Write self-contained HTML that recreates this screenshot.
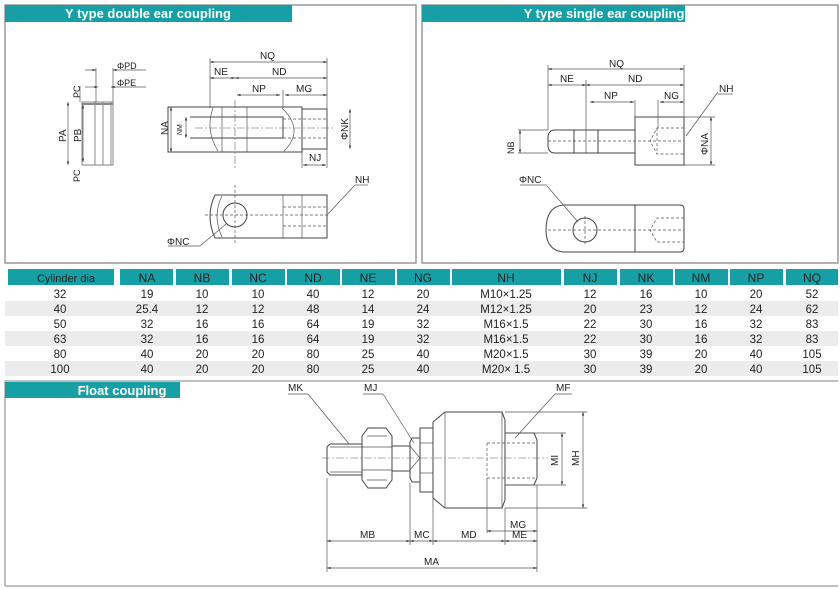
<!DOCTYPE html>
<html><head><meta charset="utf-8"><style>
body{margin:0;background:#fff}
svg{display:block}
text{font-family:"Liberation Sans",sans-serif;fill:#222}
.l{stroke:#444;stroke-width:1;fill:none}
.t{stroke:#555;stroke-width:.7;fill:none}
.d{stroke:#555;stroke-width:.7;fill:none;stroke-dasharray:3 2}
.c{stroke:#666;stroke-width:.6;fill:none;stroke-dasharray:8 2 2 2}
.h{fill:#fff;font-weight:bold;font-size:13px}
.tb{font-size:11.5px;text-anchor:middle}
.th{font-size:12px;fill:#fff;text-anchor:middle}
.s{font-size:9px}
</style></head><body>
<svg width="840" height="589" viewBox="0 0 840 589" xmlns="http://www.w3.org/2000/svg">
<defs><marker id="a" viewBox="0 0 6 6" refX="6" refY="3" markerWidth="5" markerHeight="5" orient="auto-start-reverse"><path d="M0,1 L6,3 L0,5z" fill="#333"/></marker></defs>
<!-- frames -->
<rect x="5" y="5" width="411" height="258" fill="none" stroke="#999" stroke-width="1.5"/>
<rect x="422" y="5" width="416" height="258" fill="none" stroke="#999" stroke-width="1.5"/>
<rect x="5" y="5" width="287" height="17" fill="#16a0a6"/>
<text x="148" y="18" class="h" text-anchor="middle">Y type double ear coupling</text>
<rect x="422" y="5" width="263" height="17" fill="#16a0a6"/>
<text x="604" y="18" class="h" text-anchor="middle">Y type single ear coupling</text>

<!-- left side view -->
<g class="s">
<rect x="82" y="102" width="31" height="63" class="t"/>
<line x1="95" y1="102" x2="95" y2="165" class="t"/><line x1="103" y1="102" x2="103" y2="165" class="t"/><line x1="111" y1="102" x2="111" y2="165" class="t"/>
<line x1="82" y1="104" x2="113" y2="104" stroke="#888" stroke-width="2"/>
<line x1="96" y1="68" x2="96" y2="102" class="t"/><line x1="113" y1="68" x2="113" y2="102" class="t"/>
<line x1="85" y1="70" x2="96" y2="70" class="t" marker-end="url(#a)"/><line x1="146" y1="70" x2="113" y2="70" class="t" marker-end="url(#a)"/>
<line x1="85" y1="87" x2="98" y2="87" class="t" marker-end="url(#a)"/><line x1="146" y1="87" x2="111" y2="87" class="t" marker-end="url(#a)"/>
<text x="117" y="69">ΦPD</text><text x="117" y="86">ΦPE</text>
<line x1="68" y1="102" x2="68" y2="165" class="t" marker-start="url(#a)" marker-end="url(#a)"/>
<line x1="83" y1="105" x2="83" y2="162" class="t" marker-start="url(#a)" marker-end="url(#a)"/>
<line x1="80" y1="86" x2="80" y2="102" class="t"/>
<text transform="translate(66,142) rotate(-90)" font-size="10">PA</text><text transform="translate(81,142) rotate(-90)" font-size="10">PB</text>
<text transform="translate(80,98) rotate(-90)">PC</text><text transform="translate(80,182) rotate(-90)">PC</text>
</g>
<!-- left main -->
<g class="s">
<path d="M168,107 H302 V152 H168 Z" class="l"/>
<path d="M190,117 H283 V138 H190" class="l"/>
<path d="M213,108 Q205,130 218,151" class="t"/>
<line x1="222" y1="107" x2="222" y2="152" class="t"/><line x1="247" y1="107" x2="247" y2="152" class="t"/>
<path d="M282,108 Q305,130 284,151" class="t"/>
<rect x="302" y="109" width="25" height="40" class="l"/>
<line x1="283" y1="119" x2="327" y2="119" class="d"/><line x1="283" y1="138" x2="327" y2="138" class="d"/>
<line x1="195" y1="128" x2="333" y2="128" class="c"/>
<line x1="235" y1="100" x2="235" y2="168" class="c"/>
<line x1="210" y1="58" x2="210" y2="108" class="t"/><line x1="327" y1="58" x2="327" y2="168" class="t"/>
<line x1="210" y1="62" x2="327" y2="62" class="t" marker-start="url(#a)" marker-end="url(#a)"/><text x="260" y="59" font-size="10">NQ</text>
<line x1="210" y1="78" x2="235" y2="78" class="t" marker-start="url(#a)" marker-end="url(#a)"/><text x="214" y="75" font-size="10">NE</text>
<line x1="235" y1="78" x2="327" y2="78" class="t" marker-start="url(#a)" marker-end="url(#a)"/><text x="272" y="75" font-size="10">ND</text>
<line x1="237" y1="95" x2="280" y2="95" class="t" marker-start="url(#a)" marker-end="url(#a)"/><text x="252" y="92" font-size="10">NP</text>
<line x1="283" y1="90" x2="283" y2="108" class="t"/>
<line x1="285" y1="95" x2="327" y2="95" class="t" marker-start="url(#a)" marker-end="url(#a)"/><text x="296" y="92" font-size="10">MG</text>
<line x1="302" y1="152" x2="302" y2="168" class="t"/>
<line x1="303" y1="165" x2="326" y2="165" class="t" marker-start="url(#a)" marker-end="url(#a)"/><text x="309" y="161" font-size="10">NJ</text>
<line x1="350" y1="109" x2="350" y2="149" class="t" marker-start="url(#a)" marker-end="url(#a)"/>
<text transform="translate(348,140) rotate(-90)" font-size="10">ΦNK</text>
<line x1="171" y1="107" x2="171" y2="152" class="t" marker-start="url(#a)" marker-end="url(#a)"/>
<text transform="translate(168,135) rotate(-90)" font-size="10">NA</text>
<line x1="186" y1="117" x2="186" y2="138" class="t" marker-start="url(#a)" marker-end="url(#a)"/>
<text transform="translate(182,135) rotate(-90)" font-size="7">NM</text>
<!-- bottom view -->
<path d="M215,195 H327 V238 H215 Q205,216 215,195 Z" class="l"/>
<path d="M222,196 Q212,216 222,237" class="t"/>
<line x1="283" y1="195" x2="283" y2="238" class="t"/><line x1="302" y1="195" x2="302" y2="238" class="t"/>
<line x1="283" y1="207" x2="327" y2="207" class="d"/><line x1="283" y1="226" x2="327" y2="226" class="d"/>
<circle cx="235" cy="215" r="12" class="l"/>
<line x1="205" y1="215" x2="330" y2="215" class="d"/><line x1="235" y1="185" x2="235" y2="245" class="d"/>
<line x1="328" y1="214" x2="355" y2="185" class="t"/><line x1="355" y1="185" x2="368" y2="185" class="t"/><text x="355" y="183" font-size="10">NH</text>
<line x1="226" y1="224" x2="200" y2="246" class="t"/><line x1="168" y1="246" x2="200" y2="246" class="t"/><text x="167" y="245" font-size="10">ΦNC</text>
</g>

<!-- right main -->
<g class="s">
<path d="M555,130 H635 V153 H555 Q548,153 548,145 V138 Q548,130 555,130 Z" class="l"/>
<line x1="574" y1="130" x2="574" y2="153" class="l"/><line x1="598" y1="130" x2="598" y2="153" class="l"/>
<rect x="635" y="117" width="49" height="48" class="l"/>
<path d="M684,128 H657 L650,141 L657,154 H684" class="d"/><line x1="657" y1="128" x2="657" y2="154" class="d"/>
<line x1="548" y1="141" x2="684" y2="141" class="d"/>
<line x1="548" y1="65" x2="548" y2="130" class="t"/><line x1="684" y1="65" x2="684" y2="117" class="t"/><line x1="586" y1="80" x2="586" y2="153" class="t"/>
<line x1="635" y1="100" x2="635" y2="117" class="t"/><line x1="658" y1="100" x2="658" y2="128" class="t"/>
<line x1="548" y1="69" x2="684" y2="69" class="t" marker-start="url(#a)" marker-end="url(#a)"/><text x="609" y="67" font-size="10">NQ</text>
<line x1="548" y1="85" x2="586" y2="85" class="t" marker-start="url(#a)" marker-end="url(#a)"/><text x="560" y="82" font-size="10">NE</text>
<line x1="586" y1="85" x2="684" y2="85" class="t" marker-start="url(#a)" marker-end="url(#a)"/><text x="628" y="82" font-size="10">ND</text>
<line x1="590" y1="102" x2="634" y2="102" class="t" marker-start="url(#a)" marker-end="url(#a)"/><text x="604" y="99" font-size="10">NP</text>
<line x1="660" y1="102" x2="684" y2="102" class="t" marker-start="url(#a)" marker-end="url(#a)"/><text x="664" y="99" font-size="10">NG</text>
<line x1="684" y1="117" x2="715" y2="117" class="t"/><line x1="684" y1="165" x2="715" y2="165" class="t"/>
<line x1="711" y1="117" x2="711" y2="165" class="t" marker-start="url(#a)" marker-end="url(#a)"/>
<text transform="translate(708,155) rotate(-90)" font-size="10">ΦNA</text>
<line x1="518" y1="130" x2="548" y2="130" class="t"/><line x1="518" y1="153" x2="548" y2="153" class="t"/>
<line x1="520" y1="130" x2="520" y2="153" class="t" marker-start="url(#a)" marker-end="url(#a)"/>
<text transform="translate(514,154) rotate(-90)" font-size="9">NB</text>
<line x1="686" y1="136" x2="718" y2="92" class="t"/><line x1="718" y1="94" x2="733" y2="94" class="t"/><text x="719" y="92" font-size="10">NH</text>
<path d="M563,205 H635 V252 H563 Q546,250 546,230 Q546,207 563,205 Z" class="l"/>
<path d="M635,205 H680 Q684,205 684,209 V248 Q684,252 680,252 H635" class="l"/>
<circle cx="585" cy="230" r="12" class="l"/>
<line x1="548" y1="230" x2="684" y2="230" class="d"/><line x1="585" y1="216" x2="585" y2="244" class="d"/>
<path d="M684,218 H657 L650,230 L657,242 H684" class="d"/>
<line x1="578" y1="222" x2="547" y2="186" class="t"/><line x1="520" y1="185" x2="547" y2="185" class="t"/><text x="519" y="183" font-size="10">ΦNC</text>
</g>

<!-- table -->
<g>
<g fill="#16a0a6">
<rect x="8" y="269" width="106" height="16"/><rect x="120" y="269" width="53" height="16"/><rect x="176" y="269" width="53" height="16"/><rect x="232" y="269" width="53" height="16"/><rect x="287" y="269" width="53" height="16"/><rect x="342" y="269" width="53" height="16"/><rect x="397" y="269" width="53" height="16"/><rect x="452" y="269" width="109" height="16"/><rect x="564" y="269" width="53" height="16"/><rect x="620" y="269" width="53" height="16"/><rect x="675" y="269" width="53" height="16"/><rect x="730" y="269" width="53" height="16"/><rect x="786" y="269" width="52" height="16"/>
</g>
<rect x="5" y="301" width="833" height="15" fill="#ececec"/>
<rect x="5" y="331" width="833" height="15" fill="#ececec"/>
<rect x="5" y="361" width="833" height="15" fill="#ececec"/>
<g class="th"><text x="66" y="282" font-size="11">Cylinder dia</text><text x="147" y="282">NA</text><text x="202" y="282">NB</text><text x="258" y="282">NC</text><text x="313" y="282">ND</text><text x="368" y="282">NE</text><text x="423" y="282">NG</text><text x="506" y="282">NH</text><text x="590" y="282">NJ</text><text x="646" y="282">NK</text><text x="701" y="282">NM</text><text x="756" y="282">NP</text><text x="812" y="282">NQ</text></g>
<g class="tb">
<text x="60" y="298">32</text><text x="147" y="298">19</text><text x="202" y="298">10</text><text x="258" y="298">10</text><text x="313" y="298">40</text><text x="368" y="298">12</text><text x="423" y="298">20</text><text x="506" y="298">M10×1.25</text><text x="590" y="298">12</text><text x="646" y="298">16</text><text x="701" y="298">10</text><text x="756" y="298">20</text><text x="812" y="298">52</text>
<text x="60" y="313">40</text><text x="147" y="313">25.4</text><text x="202" y="313">12</text><text x="258" y="313">12</text><text x="313" y="313">48</text><text x="368" y="313">14</text><text x="423" y="313">24</text><text x="506" y="313">M12×1.25</text><text x="590" y="313">20</text><text x="646" y="313">23</text><text x="701" y="313">12</text><text x="756" y="313">24</text><text x="812" y="313">62</text>
<text x="60" y="328">50</text><text x="147" y="328">32</text><text x="202" y="328">16</text><text x="258" y="328">16</text><text x="313" y="328">64</text><text x="368" y="328">19</text><text x="423" y="328">32</text><text x="506" y="328">M16×1.5</text><text x="590" y="328">22</text><text x="646" y="328">30</text><text x="701" y="328">16</text><text x="756" y="328">32</text><text x="812" y="328">83</text>
<text x="60" y="343">63</text><text x="147" y="343">32</text><text x="202" y="343">16</text><text x="258" y="343">16</text><text x="313" y="343">64</text><text x="368" y="343">19</text><text x="423" y="343">32</text><text x="506" y="343">M16×1.5</text><text x="590" y="343">22</text><text x="646" y="343">30</text><text x="701" y="343">16</text><text x="756" y="343">32</text><text x="812" y="343">83</text>
<text x="60" y="358">80</text><text x="147" y="358">40</text><text x="202" y="358">20</text><text x="258" y="358">20</text><text x="313" y="358">80</text><text x="368" y="358">25</text><text x="423" y="358">40</text><text x="506" y="358">M20×1.5</text><text x="590" y="358">30</text><text x="646" y="358">39</text><text x="701" y="358">20</text><text x="756" y="358">40</text><text x="812" y="358">105</text>
<text x="60" y="373">100</text><text x="147" y="373">40</text><text x="202" y="373">20</text><text x="258" y="373">20</text><text x="313" y="373">80</text><text x="368" y="373">25</text><text x="423" y="373">40</text><text x="506" y="373">M20× 1.5</text><text x="590" y="373">30</text><text x="646" y="373">39</text><text x="701" y="373">20</text><text x="756" y="373">40</text><text x="812" y="373">105</text>
</g>
</g>

<!-- float -->
<line x1="5" y1="381" x2="838" y2="381" stroke="#aaa" stroke-width="1.5"/>
<line x1="5" y1="586" x2="838" y2="586" stroke="#aaa" stroke-width="1.5"/>
<line x1="5" y1="381" x2="5" y2="586" stroke="#aaa" stroke-width="1.5"/>
<rect x="5" y="382" width="175" height="16" fill="#16a0a6"/>
<text x="122" y="395" class="h" text-anchor="middle">Float coupling</text>
<g class="s">
<path d="M330,444 H362 M330,475 H362 M327,447 V472 L330,475 M327,447 L330,444" class="l"/>
<line x1="330" y1="447" x2="362" y2="447" class="t"/><line x1="330" y1="472" x2="362" y2="472" class="t"/>
<path d="M368,428 H386 L392,436 V480 L386,488 H368 L362,480 V436 Z" class="l"/>
<line x1="362" y1="447" x2="392" y2="447" class="t"/><line x1="362" y1="470" x2="392" y2="470" class="t"/>
<path d="M367,436 H387 M367,480 H387" class="t"/>
<rect x="392" y="446" width="18" height="25" class="l"/>
<path d="M412,438 H420 V482 H412 L410,478 V442 Z" class="l"/>
<path d="M410,446 L420,458 L410,470" class="t"/>
<rect x="420" y="428" width="13" height="64" class="l"/>
<line x1="420" y1="443" x2="433" y2="443" class="t"/><line x1="420" y1="473" x2="433" y2="473" class="t"/>
<path d="M445,412 H502 L505,420 V500 L502,508 H445 L433,498 V422 Z" class="l"/>
<line x1="445" y1="412" x2="445" y2="508" class="t"/><line x1="502" y1="412" x2="502" y2="508" class="t"/>
<path d="M505,433 H534 L537,440 V478 L534,485 H505" class="l"/>
<path d="M487,443 H537 M487,478 H537 M487,443 V478" class="d"/>
<line x1="322" y1="458" x2="548" y2="458" class="c"/>
<!-- dims -->
<line x1="327" y1="478" x2="327" y2="572" class="t"/><line x1="410" y1="483" x2="410" y2="545" class="t"/><line x1="433" y1="492" x2="433" y2="545" class="t"/><line x1="505" y1="508" x2="505" y2="545" class="t"/><line x1="537" y1="485" x2="537" y2="572" class="t"/><line x1="487" y1="478" x2="487" y2="533" class="t"/>
<line x1="505" y1="433" x2="566" y2="433" class="t"/><line x1="505" y1="485" x2="566" y2="485" class="t"/><line x1="505" y1="412" x2="587" y2="412" class="t"/><line x1="505" y1="508" x2="587" y2="508" class="t"/>
<line x1="562" y1="433" x2="562" y2="485" class="t" marker-start="url(#a)" marker-end="url(#a)"/>
<line x1="583" y1="412" x2="583" y2="508" class="t" marker-start="url(#a)" marker-end="url(#a)"/>
<text transform="translate(558,466) rotate(-90)" font-size="10">MI</text>
<text transform="translate(579,466) rotate(-90)" font-size="10">MH</text>
<line x1="487" y1="531" x2="537" y2="531" class="t" marker-start="url(#a)" marker-end="url(#a)"/><text x="510" y="528" font-size="10">MG</text>
<line x1="327" y1="541" x2="410" y2="541" class="t" marker-start="url(#a)" marker-end="url(#a)"/><text x="360" y="538" font-size="10">MB</text>
<line x1="410" y1="541" x2="433" y2="541" class="t" marker-start="url(#a)" marker-end="url(#a)"/><text x="414" y="538" font-size="10">MC</text>
<line x1="433" y1="541" x2="505" y2="541" class="t" marker-start="url(#a)" marker-end="url(#a)"/><text x="461" y="538" font-size="10">MD</text>
<line x1="505" y1="541" x2="537" y2="541" class="t" marker-start="url(#a)" marker-end="url(#a)"/><text x="512" y="538" font-size="10">ME</text>
<line x1="327" y1="568" x2="537" y2="568" class="t" marker-start="url(#a)" marker-end="url(#a)"/><text x="424" y="565" font-size="10">MA</text>
<line x1="349" y1="444" x2="308" y2="394" class="t"/><line x1="288" y1="394" x2="308" y2="394" class="t"/><text x="288" y="391" font-size="10">MK</text>
<line x1="414" y1="443" x2="383" y2="394" class="t"/><line x1="363" y1="394" x2="383" y2="394" class="t"/><text x="364" y="391" font-size="10">MJ</text>
<line x1="515" y1="438" x2="555" y2="394" class="t"/><line x1="555" y1="394" x2="572" y2="394" class="t"/><text x="556" y="391" font-size="10">MF</text>
</g>
</svg>
</body></html>
